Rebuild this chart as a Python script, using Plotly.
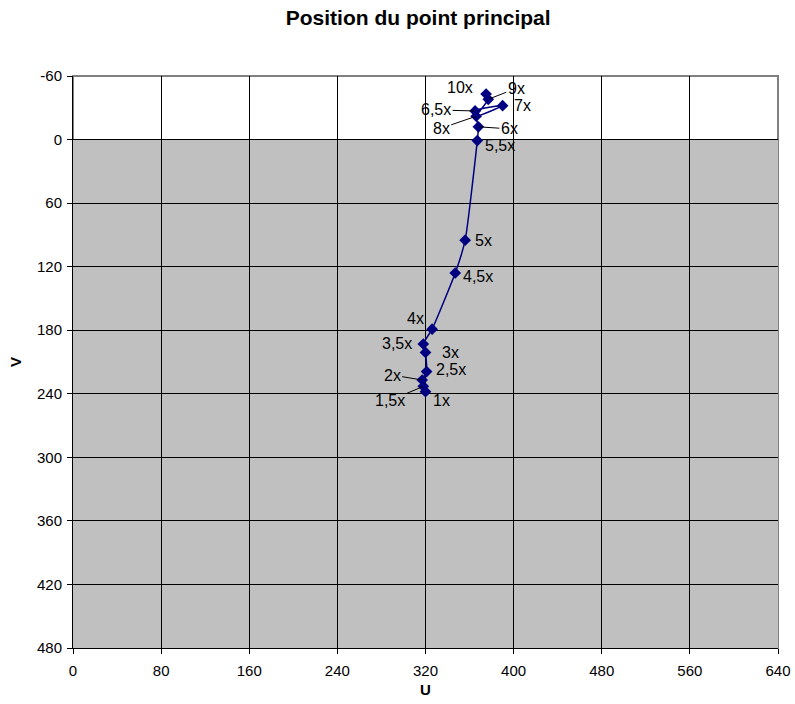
import plotly.graph_objects as go

# zoom factor, principal point (u, v) in pixels
labels = ["1x", "1,5x", "2x", "2,5x", "3x", "3,5x", "4x", "4,5x", "5x",
          "5,5x", "6x", "6,5x", "7x", "8x", "9x", "10x"]
u = [320, 318, 317, 321, 320, 318, 326, 347, 356,
     367, 368, 365, 390, 366, 377, 375]
v = [238, 233, 227, 219, 201, 193, 179, 126, 95,
     1, -12, -27, -32, -22, -38, -43]

u_ticks = [0, 80, 160, 240, 320, 400, 480, 560, 640]
v_ticks = [-60, 0, 60, 120, 180, 240, 300, 360, 420, 480]

# label offsets in pixels (dx, dy, leader line)
offsets = {
    "1x": (16, 9, False), "1,5x": (-33, 14, True), "2x": (-30, -5, True),
    "2,5x": (24, -2, False), "3x": (25, 0, False), "3,5x": (-26, 0, False),
    "4x": (-17, -11, False), "4,5x": (23, 3, False), "5x": (18, 0, False),
    "5,5x": (23, 5, False), "6x": (31, 2, True), "6,5x": (-39, -1, True),
    "7x": (20, 0, False), "8x": (-35, 12, True), "9x": (28, -11, True),
    "10x": (-26, -7, False),
}

FONT = "Liberation Sans, Arial, sans-serif"
NAVY = "#000080"

fig = go.Figure()
fig.add_trace(go.Scatter(
    x=u, y=v, mode="lines+markers",
    line=dict(color=NAVY, width=1.5, shape="spline", smoothing=0.5),
    marker=dict(symbol="diamond", size=9, color=NAVY),
    showlegend=False, hoverinfo="x+y",
))

for lab, x, y in zip(labels, u, v):
    dx, dy, lead = offsets[lab]
    if lead:
        fig.add_annotation(x=x, y=y, text=lab, showarrow=True, arrowhead=0,
                           arrowwidth=1, arrowcolor="black", ax=dx, ay=dy,
                           standoff=1, font=dict(size=16, color="black", family=FONT))
    else:
        fig.add_annotation(x=x, y=y, text=lab, showarrow=False, xshift=dx, yshift=-dy,
                           font=dict(size=16, color="black", family=FONT))

# grey area below v = 0
fig.add_shape(type="rect", x0=0, x1=640, y0=0, y1=480, xref="x", yref="y",
              fillcolor="#C0C0C0", line=dict(width=0), layer="below")
# grey frame top/right
fig.add_shape(type="rect", x0=0, x1=1, y0=0, y1=1, xref="paper", yref="paper",
              line=dict(color="#808080", width=2), layer="below")

fig.update_xaxes(range=[0, 640], tickvals=u_ticks, ticktext=[str(t) for t in u_ticks],
                 showgrid=True, gridcolor="black",
                 gridwidth=1, showline=True, linecolor="black", linewidth=1,
                 ticks="outside", ticklen=5, tickcolor="black", zeroline=False,
                 automargin=False, ticklabelstandoff=4,
                 tickfont=dict(size=15, color="black", family=FONT),
                 title=dict(text="<b>U</b>", font=dict(size=15, color="black", family=FONT),
                            standoff=6))
fig.update_yaxes(range=[480, -60], tickvals=v_ticks, ticktext=[str(t) for t in v_ticks],
                 showgrid=True, gridcolor="black",
                 gridwidth=1, showline=True, linecolor="black", linewidth=1,
                 ticks="outside", ticklen=5, tickcolor="black", zeroline=False,
                 automargin=False, ticklabelstandoff=2,
                 tickfont=dict(size=15, color="black", family=FONT),
                 title=dict(text="<b>V</b>", font=dict(size=15, color="black", family=FONT),
                            standoff=11))

fig.update_layout(
    width=795, height=704,
    paper_bgcolor="white", plot_bgcolor="white",
    margin=dict(l=73, r=17, t=76, b=56),
    title=dict(text="<b>Position du point principal</b>", x=0.526, xanchor="center",
               y=0.985, yanchor="top", font=dict(size=21, color="black", family=FONT)),
)

# drop the default body margin so the figure fills the window
fig.write_html("out.html", config={"displayModeBar": False},
               post_script="document.body.style.margin = '0';")
